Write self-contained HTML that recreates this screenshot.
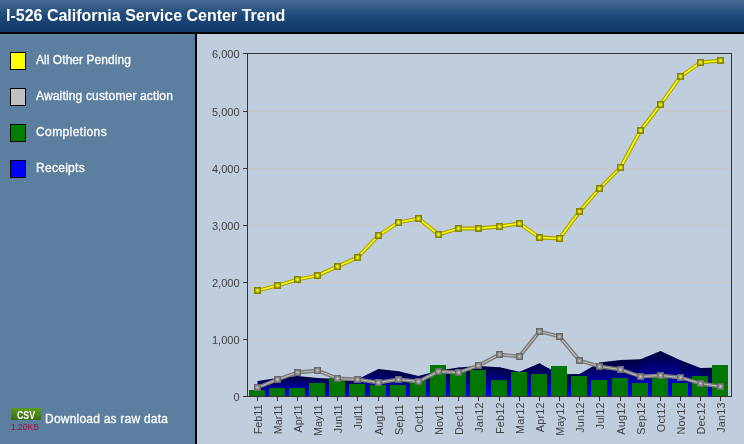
<!DOCTYPE html>
<html><head><meta charset="utf-8"><title>I-526 California Service Center Trend</title>
<style>
html,body{margin:0;padding:0}
body{width:744px;height:444px;overflow:hidden;position:relative;background:#c0cddc;font-family:"Liberation Sans",Arial,sans-serif}
#hd{position:absolute;left:0;top:0;width:744px;height:32px;background:linear-gradient(#466c92 0%,#1e4878 50%,#10386a 100%);border-bottom:2px solid #000}
#hd h1{margin:0;position:absolute;left:6px;top:7px;font-size:16px;line-height:18px;font-weight:bold;color:#fff;white-space:nowrap}
#sb{position:absolute;left:0;top:34px;width:195px;height:410px;background:#5c7f9f;border-right:2px solid #000}
.lg{position:absolute;left:10px;width:14px;height:16px;border:1px solid #000}
.lt{position:absolute;left:36px;font-size:12px;line-height:14px;color:#fff;white-space:nowrap;-webkit-text-stroke:0.3px #fff}
.t{font-family:"Liberation Sans",Arial,sans-serif;font-size:11px;fill:#404040}
.x{font-size:10.8px}
#csv{position:absolute;left:11px;top:408px;width:30px;height:12px;background:linear-gradient(#5c9c20,#3a6e10);color:#fff;font-weight:bold;font-size:10px;line-height:12px;text-align:center}
#csv span{display:block;position:relative;top:2px;transform:scaleX(0.88)}
#sz{position:absolute;left:11px;top:422px;font-size:8.5px;line-height:10px;color:#98104a;white-space:nowrap}
#dl{position:absolute;left:45px;top:412px;font-size:12px;line-height:14px;color:#fff;letter-spacing:0.22px;-webkit-text-stroke:0.3px #fff;white-space:nowrap}
</style></head><body>
<div id="hd"><h1>I-526 California Service Center Trend</h1></div>
<div id="sb"></div>
<div class="lg" style="top:52px;background:#ffff00"></div><div class="lt" style="top:53px;letter-spacing:0.05px">All Other Pending</div>
<div class="lg" style="top:88px;background:#c0c0c0"></div><div class="lt" style="top:89px;letter-spacing:0.16px">Awaiting customer action</div>
<div class="lg" style="top:124px;background:#008000"></div><div class="lt" style="top:125px;letter-spacing:0.4px">Completions</div>
<div class="lg" style="top:160px;background:#0000ff"></div><div class="lt" style="top:161px;letter-spacing:0.28px">Receipts</div>
<div id="csv"><span>CSV</span></div><div id="sz">1.20KB</div><div id="dl">Download as raw data</div>
<svg width="547" height="410" viewBox="197 34 547 410" style="position:absolute;left:197px;top:34px">
<defs>
<linearGradient id="ag" x1="0" y1="0" x2="0" y2="1"><stop offset="0" stop-color="#00003c"/><stop offset="0.5" stop-color="#000090"/><stop offset="1" stop-color="#0000ff"/></linearGradient>
<radialGradient id="mg" cx="0.5" cy="0.5" r="0.6"><stop offset="0" stop-color="#d4d4d4"/><stop offset="0.4" stop-color="#9e9e9e"/><stop offset="1" stop-color="#747474"/></radialGradient>
<radialGradient id="my" cx="0.5" cy="0.5" r="0.6"><stop offset="0" stop-color="#ffff50"/><stop offset="0.3" stop-color="#e8e800"/><stop offset="0.75" stop-color="#a4a400"/><stop offset="1" stop-color="#8c8c00"/></radialGradient>
</defs>
<rect x="248" y="339" width="483" height="1" fill="#cbc5bf"/>
<rect x="248" y="282" width="483" height="1" fill="#cbc5bf"/>
<rect x="248" y="225" width="483" height="1" fill="#cbc5bf"/>
<rect x="248" y="168" width="483" height="1" fill="#cbc5bf"/>
<rect x="248" y="111" width="483" height="1" fill="#cbc5bf"/>
<polygon points="257.5,396 257.5,381 277.5,378 278.5,377.90 278.5,396" fill="url(#ag)"/>
<polygon points="277.5,396 277.5,378 297.5,376 298.5,376.10 298.5,396" fill="url(#ag)"/>
<polygon points="297.5,396 297.5,376 317.5,378 318.5,378.05 318.5,396" fill="url(#ag)"/>
<polygon points="317.5,396 317.5,378 337.5,379 338.5,379.01 338.5,396" fill="url(#ag)"/>
<polygon points="337.5,396 337.5,379 357.5,379.3 358.5,378.81 358.5,396" fill="url(#ag)"/>
<polygon points="357.5,396 357.5,379.3 378.5,369 379.5,369.11 379.5,396" fill="url(#ag)"/>
<polygon points="378.5,396 378.5,369 398.5,371.2 399.5,371.44 399.5,396" fill="url(#ag)"/>
<polygon points="398.5,396 398.5,371.2 418.5,376 419.5,375.72 419.5,396" fill="url(#ag)"/>
<polygon points="418.5,396 418.5,376 438.5,370.4 439.5,370.25 439.5,396" fill="url(#ag)"/>
<polygon points="438.5,396 438.5,370.4 458.5,367.5 459.5,367.43 459.5,396" fill="url(#ag)"/>
<polygon points="458.5,396 458.5,367.5 478.5,366 479.5,366.06 479.5,396" fill="url(#ag)"/>
<polygon points="478.5,396 478.5,366 499.5,367.3 500.5,367.52 500.5,396" fill="url(#ag)"/>
<polygon points="499.5,396 499.5,367.3 519.5,371.7 520.5,371.28 520.5,396" fill="url(#ag)"/>
<polygon points="519.5,396 519.5,371.7 539.5,363.3 540.5,363.85 540.5,396" fill="url(#ag)"/>
<polygon points="539.5,396 539.5,363.3 559.5,374.3 560.5,374.29 560.5,396" fill="url(#ag)"/>
<polygon points="559.5,396 559.5,374.3 579.5,374.1 580.5,373.53 580.5,396" fill="url(#ag)"/>
<polygon points="579.5,396 579.5,374.1 599.5,362.6 600.5,362.48 600.5,396" fill="url(#ag)"/>
<polygon points="599.5,396 599.5,362.6 620.5,360 621.5,359.96 621.5,396" fill="url(#ag)"/>
<polygon points="620.5,396 620.5,360 640.5,359.3 641.5,358.88 641.5,396" fill="url(#ag)"/>
<polygon points="640.5,396 640.5,359.3 660.5,351 661.5,351.46 661.5,396" fill="url(#ag)"/>
<polygon points="660.5,396 660.5,351 680.5,360.3 681.5,360.69 681.5,396" fill="url(#ag)"/>
<polygon points="680.5,396 680.5,360.3 700.5,368.1 701.5,368.08 701.5,396" fill="url(#ag)"/>
<polygon points="700.5,396 700.5,368.1 720.5,367.6 720.5,396" fill="url(#ag)"/>
<rect x="249" y="390" width="16" height="6" fill="#007800"/>
<rect x="269" y="388" width="16" height="8" fill="#007800"/>
<rect x="289" y="388" width="16" height="8" fill="#007800"/>
<rect x="309" y="383" width="16" height="13" fill="#007800"/>
<rect x="329" y="378" width="16" height="18" fill="#007800"/>
<rect x="349" y="384" width="16" height="12" fill="#007800"/>
<rect x="370" y="385" width="16" height="11" fill="#007800"/>
<rect x="390" y="385" width="16" height="11" fill="#007800"/>
<rect x="410" y="380.5" width="16" height="15.5" fill="#007800"/>
<rect x="430" y="365" width="16" height="31" fill="#007800"/>
<rect x="450" y="372" width="16" height="24" fill="#007800"/>
<rect x="470" y="370" width="16" height="26" fill="#007800"/>
<rect x="491" y="380" width="16" height="16" fill="#007800"/>
<rect x="511" y="372" width="16" height="24" fill="#007800"/>
<rect x="531" y="374" width="16" height="22" fill="#007800"/>
<rect x="551" y="366" width="16" height="30" fill="#007800"/>
<rect x="571" y="376" width="16" height="20" fill="#007800"/>
<rect x="591" y="380" width="16" height="16" fill="#007800"/>
<rect x="612" y="378" width="16" height="18" fill="#007800"/>
<rect x="632" y="383" width="16" height="13" fill="#007800"/>
<rect x="652" y="377" width="16" height="19" fill="#007800"/>
<rect x="672" y="383" width="16" height="13" fill="#007800"/>
<rect x="692" y="376" width="16" height="20" fill="#007800"/>
<rect x="712" y="365" width="16" height="31" fill="#007800"/>
<polyline points="257.5,387.5 277.5,379.5 297.5,372.5 317.5,370.5 337.5,378.5 357.5,379.5 378.5,382.5 398.5,379.5 418.5,381.5 438.5,371.5 458.5,372.5 478.5,365.5 499.5,354.5 519.5,356.5 539.5,331.5 559.5,336.5 579.5,360.5 599.5,366.5 620.5,369.5 640.5,376.5 660.5,375.5 680.5,377.5 700.5,383.5 720.5,386.5" fill="none" stroke="#787878" stroke-width="3.8" stroke-linejoin="round"/>
<polyline points="257.5,387.5 277.5,379.5 297.5,372.5 317.5,370.5 337.5,378.5 357.5,379.5 378.5,382.5 398.5,379.5 418.5,381.5 438.5,371.5 458.5,372.5 478.5,365.5 499.5,354.5 519.5,356.5 539.5,331.5 559.5,336.5 579.5,360.5 599.5,366.5 620.5,369.5 640.5,376.5 660.5,375.5 680.5,377.5 700.5,383.5 720.5,386.5" fill="none" stroke="#c0c0c0" stroke-width="1.2" stroke-linejoin="round"/>
<rect x="254" y="384" width="7" height="7" fill="#686868"/>
<rect x="255" y="385" width="5" height="5" fill="url(#mg)"/>
<rect x="274" y="376" width="7" height="7" fill="#686868"/>
<rect x="275" y="377" width="5" height="5" fill="url(#mg)"/>
<rect x="294" y="369" width="7" height="7" fill="#686868"/>
<rect x="295" y="370" width="5" height="5" fill="url(#mg)"/>
<rect x="314" y="367" width="7" height="7" fill="#686868"/>
<rect x="315" y="368" width="5" height="5" fill="url(#mg)"/>
<rect x="334" y="375" width="7" height="7" fill="#686868"/>
<rect x="335" y="376" width="5" height="5" fill="url(#mg)"/>
<rect x="354" y="376" width="7" height="7" fill="#686868"/>
<rect x="355" y="377" width="5" height="5" fill="url(#mg)"/>
<rect x="375" y="379" width="7" height="7" fill="#686868"/>
<rect x="376" y="380" width="5" height="5" fill="url(#mg)"/>
<rect x="395" y="376" width="7" height="7" fill="#686868"/>
<rect x="396" y="377" width="5" height="5" fill="url(#mg)"/>
<rect x="415" y="378" width="7" height="7" fill="#686868"/>
<rect x="416" y="379" width="5" height="5" fill="url(#mg)"/>
<rect x="435" y="368" width="7" height="7" fill="#686868"/>
<rect x="436" y="369" width="5" height="5" fill="url(#mg)"/>
<rect x="455" y="369" width="7" height="7" fill="#686868"/>
<rect x="456" y="370" width="5" height="5" fill="url(#mg)"/>
<rect x="475" y="362" width="7" height="7" fill="#686868"/>
<rect x="476" y="363" width="5" height="5" fill="url(#mg)"/>
<rect x="496" y="351" width="7" height="7" fill="#686868"/>
<rect x="497" y="352" width="5" height="5" fill="url(#mg)"/>
<rect x="516" y="353" width="7" height="7" fill="#686868"/>
<rect x="517" y="354" width="5" height="5" fill="url(#mg)"/>
<rect x="536" y="328" width="7" height="7" fill="#686868"/>
<rect x="537" y="329" width="5" height="5" fill="url(#mg)"/>
<rect x="556" y="333" width="7" height="7" fill="#686868"/>
<rect x="557" y="334" width="5" height="5" fill="url(#mg)"/>
<rect x="576" y="357" width="7" height="7" fill="#686868"/>
<rect x="577" y="358" width="5" height="5" fill="url(#mg)"/>
<rect x="596" y="363" width="7" height="7" fill="#686868"/>
<rect x="597" y="364" width="5" height="5" fill="url(#mg)"/>
<rect x="617" y="366" width="7" height="7" fill="#686868"/>
<rect x="618" y="367" width="5" height="5" fill="url(#mg)"/>
<rect x="637" y="373" width="7" height="7" fill="#686868"/>
<rect x="638" y="374" width="5" height="5" fill="url(#mg)"/>
<rect x="657" y="372" width="7" height="7" fill="#686868"/>
<rect x="658" y="373" width="5" height="5" fill="url(#mg)"/>
<rect x="677" y="374" width="7" height="7" fill="#686868"/>
<rect x="678" y="375" width="5" height="5" fill="url(#mg)"/>
<rect x="697" y="380" width="7" height="7" fill="#686868"/>
<rect x="698" y="381" width="5" height="5" fill="url(#mg)"/>
<rect x="717" y="383" width="7" height="7" fill="#686868"/>
<rect x="718" y="384" width="5" height="5" fill="url(#mg)"/>
<polyline points="257.5,290.5 277.5,285.5 297.5,279.5 317.5,275.5 337.5,266.5 357.5,257.5 378.5,235.5 398.5,222.5 418.5,218.5 438.5,234.5 458.5,228.5 478.5,228.5 499.5,226.5 519.5,223.5 539.5,237.5 559.5,238.5 579.5,211.5 599.5,188.5 620.5,167.5 640.5,130.5 660.5,104.5 680.5,76.5 700.5,62.5 720.5,60.5" fill="none" stroke="#9e9e00" stroke-width="3.8" stroke-linejoin="round"/>
<polyline points="257.5,290.5 277.5,285.5 297.5,279.5 317.5,275.5 337.5,266.5 357.5,257.5 378.5,235.5 398.5,222.5 418.5,218.5 438.5,234.5 458.5,228.5 478.5,228.5 499.5,226.5 519.5,223.5 539.5,237.5 559.5,238.5 579.5,211.5 599.5,188.5 620.5,167.5 640.5,130.5 660.5,104.5 680.5,76.5 700.5,62.5 720.5,60.5" fill="none" stroke="#ffff00" stroke-width="1.7" stroke-linejoin="round"/>
<rect x="254" y="287" width="7" height="7" fill="#848400"/>
<rect x="255" y="288" width="5" height="5" fill="url(#my)"/>
<rect x="274" y="282" width="7" height="7" fill="#848400"/>
<rect x="275" y="283" width="5" height="5" fill="url(#my)"/>
<rect x="294" y="276" width="7" height="7" fill="#848400"/>
<rect x="295" y="277" width="5" height="5" fill="url(#my)"/>
<rect x="314" y="272" width="7" height="7" fill="#848400"/>
<rect x="315" y="273" width="5" height="5" fill="url(#my)"/>
<rect x="334" y="263" width="7" height="7" fill="#848400"/>
<rect x="335" y="264" width="5" height="5" fill="url(#my)"/>
<rect x="354" y="254" width="7" height="7" fill="#848400"/>
<rect x="355" y="255" width="5" height="5" fill="url(#my)"/>
<rect x="375" y="232" width="7" height="7" fill="#848400"/>
<rect x="376" y="233" width="5" height="5" fill="url(#my)"/>
<rect x="395" y="219" width="7" height="7" fill="#848400"/>
<rect x="396" y="220" width="5" height="5" fill="url(#my)"/>
<rect x="415" y="215" width="7" height="7" fill="#848400"/>
<rect x="416" y="216" width="5" height="5" fill="url(#my)"/>
<rect x="435" y="231" width="7" height="7" fill="#848400"/>
<rect x="436" y="232" width="5" height="5" fill="url(#my)"/>
<rect x="455" y="225" width="7" height="7" fill="#848400"/>
<rect x="456" y="226" width="5" height="5" fill="url(#my)"/>
<rect x="475" y="225" width="7" height="7" fill="#848400"/>
<rect x="476" y="226" width="5" height="5" fill="url(#my)"/>
<rect x="496" y="223" width="7" height="7" fill="#848400"/>
<rect x="497" y="224" width="5" height="5" fill="url(#my)"/>
<rect x="516" y="220" width="7" height="7" fill="#848400"/>
<rect x="517" y="221" width="5" height="5" fill="url(#my)"/>
<rect x="536" y="234" width="7" height="7" fill="#848400"/>
<rect x="537" y="235" width="5" height="5" fill="url(#my)"/>
<rect x="556" y="235" width="7" height="7" fill="#848400"/>
<rect x="557" y="236" width="5" height="5" fill="url(#my)"/>
<rect x="576" y="208" width="7" height="7" fill="#848400"/>
<rect x="577" y="209" width="5" height="5" fill="url(#my)"/>
<rect x="596" y="185" width="7" height="7" fill="#848400"/>
<rect x="597" y="186" width="5" height="5" fill="url(#my)"/>
<rect x="617" y="164" width="7" height="7" fill="#848400"/>
<rect x="618" y="165" width="5" height="5" fill="url(#my)"/>
<rect x="637" y="127" width="7" height="7" fill="#848400"/>
<rect x="638" y="128" width="5" height="5" fill="url(#my)"/>
<rect x="657" y="101" width="7" height="7" fill="#848400"/>
<rect x="658" y="102" width="5" height="5" fill="url(#my)"/>
<rect x="677" y="73" width="7" height="7" fill="#848400"/>
<rect x="678" y="74" width="5" height="5" fill="url(#my)"/>
<rect x="697" y="59" width="7" height="7" fill="#848400"/>
<rect x="698" y="60" width="5" height="5" fill="url(#my)"/>
<rect x="717" y="57" width="7" height="7" fill="#848400"/>
<rect x="718" y="58" width="5" height="5" fill="url(#my)"/>
<rect x="247" y="53" width="485" height="1" fill="#333"/>
<rect x="247" y="396" width="485" height="1" fill="#333"/>
<rect x="247" y="53" width="1" height="344" fill="#333"/>
<rect x="731" y="53" width="1" height="344" fill="#333"/>
<rect x="243" y="396" width="4" height="1" fill="#333"/>
<text x="239.5" y="401.4" text-anchor="end" class="t">0</text>
<rect x="243" y="339" width="4" height="1" fill="#333"/>
<text x="239.5" y="344.4" text-anchor="end" class="t">1,000</text>
<rect x="243" y="282" width="4" height="1" fill="#333"/>
<text x="239.5" y="287.4" text-anchor="end" class="t">2,000</text>
<rect x="243" y="225" width="4" height="1" fill="#333"/>
<text x="239.5" y="230.4" text-anchor="end" class="t">3,000</text>
<rect x="243" y="168" width="4" height="1" fill="#333"/>
<text x="239.5" y="173.4" text-anchor="end" class="t">4,000</text>
<rect x="243" y="111" width="4" height="1" fill="#333"/>
<text x="239.5" y="116.4" text-anchor="end" class="t">5,000</text>
<rect x="243" y="53" width="4" height="1" fill="#333"/>
<text x="239.5" y="58.4" text-anchor="end" class="t">6,000</text>
<rect x="257" y="397" width="1" height="4" fill="#333"/>
<text transform="translate(261.5,404.5) rotate(-90)" text-anchor="end" class="t x">Feb11</text>
<rect x="277" y="397" width="1" height="4" fill="#333"/>
<text transform="translate(281.5,404.5) rotate(-90)" text-anchor="end" class="t x">Mar11</text>
<rect x="297" y="397" width="1" height="4" fill="#333"/>
<text transform="translate(301.5,404.5) rotate(-90)" text-anchor="end" class="t x">Apr11</text>
<rect x="317" y="397" width="1" height="4" fill="#333"/>
<text transform="translate(321.5,404.5) rotate(-90)" text-anchor="end" class="t x">May11</text>
<rect x="337" y="397" width="1" height="4" fill="#333"/>
<text transform="translate(341.5,404.5) rotate(-90)" text-anchor="end" class="t x">Jun11</text>
<rect x="357" y="397" width="1" height="4" fill="#333"/>
<text transform="translate(361.5,404.5) rotate(-90)" text-anchor="end" class="t x">Jul11</text>
<rect x="378" y="397" width="1" height="4" fill="#333"/>
<text transform="translate(382.5,404.5) rotate(-90)" text-anchor="end" class="t x">Aug11</text>
<rect x="398" y="397" width="1" height="4" fill="#333"/>
<text transform="translate(402.5,404.5) rotate(-90)" text-anchor="end" class="t x">Sep11</text>
<rect x="418" y="397" width="1" height="4" fill="#333"/>
<text transform="translate(422.5,404.5) rotate(-90)" text-anchor="end" class="t x">Oct11</text>
<rect x="438" y="397" width="1" height="4" fill="#333"/>
<text transform="translate(442.5,404.5) rotate(-90)" text-anchor="end" class="t x">Nov11</text>
<rect x="458" y="397" width="1" height="4" fill="#333"/>
<text transform="translate(462.5,404.5) rotate(-90)" text-anchor="end" class="t x">Dec11</text>
<rect x="478" y="397" width="1" height="4" fill="#333"/>
<text transform="translate(482.5,402.4) rotate(-90)" text-anchor="end" class="t x" style="letter-spacing:0.2px">Jan12</text>
<rect x="499" y="397" width="1" height="4" fill="#333"/>
<text transform="translate(503.5,402.4) rotate(-90)" text-anchor="end" class="t x" style="letter-spacing:0.2px">Feb12</text>
<rect x="519" y="397" width="1" height="4" fill="#333"/>
<text transform="translate(523.5,402.4) rotate(-90)" text-anchor="end" class="t x" style="letter-spacing:0.2px">Mar12</text>
<rect x="539" y="397" width="1" height="4" fill="#333"/>
<text transform="translate(543.5,402.4) rotate(-90)" text-anchor="end" class="t x" style="letter-spacing:0.2px">Apr12</text>
<rect x="559" y="397" width="1" height="4" fill="#333"/>
<text transform="translate(563.5,402.4) rotate(-90)" text-anchor="end" class="t x" style="letter-spacing:0.2px">May12</text>
<rect x="579" y="397" width="1" height="4" fill="#333"/>
<text transform="translate(583.5,402.4) rotate(-90)" text-anchor="end" class="t x" style="letter-spacing:0.2px">Jun12</text>
<rect x="599" y="397" width="1" height="4" fill="#333"/>
<text transform="translate(603.5,402.4) rotate(-90)" text-anchor="end" class="t x" style="letter-spacing:0.2px">Jul12</text>
<rect x="620" y="397" width="1" height="4" fill="#333"/>
<text transform="translate(624.5,402.4) rotate(-90)" text-anchor="end" class="t x" style="letter-spacing:0.2px">Aug12</text>
<rect x="640" y="397" width="1" height="4" fill="#333"/>
<text transform="translate(644.5,402.4) rotate(-90)" text-anchor="end" class="t x" style="letter-spacing:0.2px">Sep12</text>
<rect x="660" y="397" width="1" height="4" fill="#333"/>
<text transform="translate(664.5,402.4) rotate(-90)" text-anchor="end" class="t x" style="letter-spacing:0.2px">Oct12</text>
<rect x="680" y="397" width="1" height="4" fill="#333"/>
<text transform="translate(684.5,402.4) rotate(-90)" text-anchor="end" class="t x" style="letter-spacing:0.2px">Nov12</text>
<rect x="700" y="397" width="1" height="4" fill="#333"/>
<text transform="translate(704.5,402.4) rotate(-90)" text-anchor="end" class="t x" style="letter-spacing:0.2px">Dec12</text>
<rect x="720" y="397" width="1" height="4" fill="#333"/>
<text transform="translate(724.5,402.4) rotate(-90)" text-anchor="end" class="t x" style="letter-spacing:0.2px">Jan13</text>
</svg>
</body></html>
